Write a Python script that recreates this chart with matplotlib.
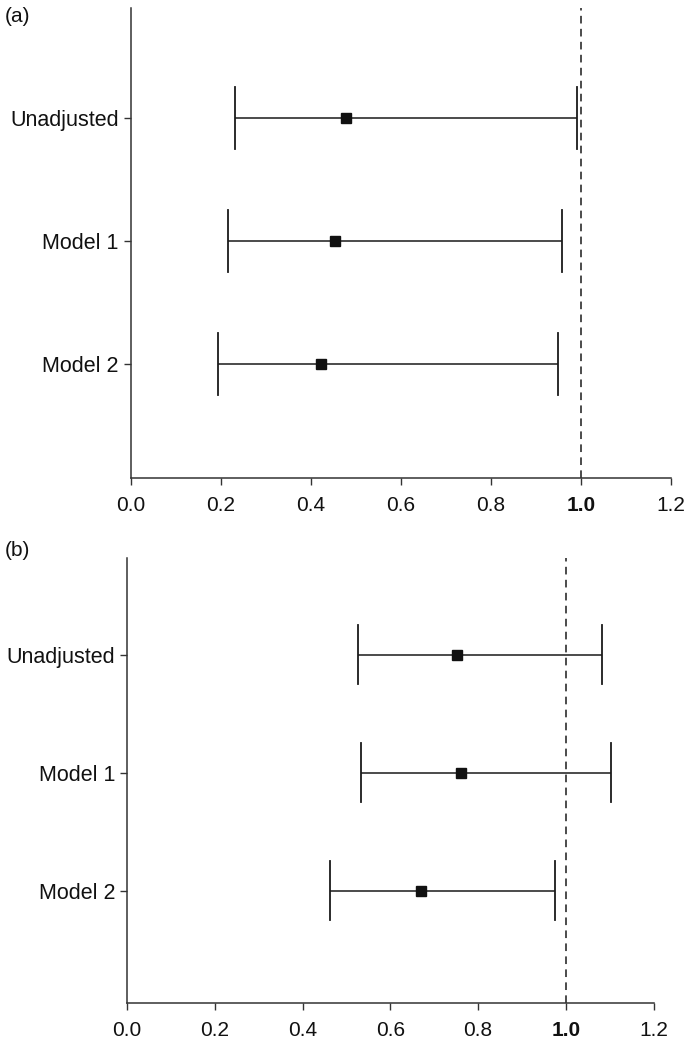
import matplotlib
matplotlib.use("Agg")
import matplotlib.pyplot as plt

categories = ["Unadjusted", "Model 1", "Model 2"]

# Panel (a)
a_est = [0.478, 0.455, 0.424]
a_low = [0.233, 0.217, 0.194]
a_high = [0.992, 0.959, 0.949]

# Panel (b)
b_est = [0.752, 0.760, 0.670]
b_low = [0.526, 0.532, 0.462]
b_high = [1.083, 1.103, 0.976]

xticks = [0.0, 0.2, 0.4, 0.6, 0.8, 1.0, 1.2]
xticklabels = ["0.0", "0.2", "0.4", "0.6", "0.8", "1.0", "1.2"]
ref_value = 1.0

plt.rcParams['font.family'] = ['Liberation Sans', 'DejaVu Sans']

fig = plt.figure(figsize=(6.92, 10.5), dpi=100)
ax_a = fig.add_axes([0.1886, 0.5448, 0.9697 - 0.1886, 0.9924 - 0.5448])
ax_b = fig.add_axes([0.1838, 0.0448, 0.9444 - 0.1838, 0.4686 - 0.0448])

def draw(ax, est, low, high, ylim):
    ypos = [3, 2, 1]
    col = '#1a1a1a'
    for y, e, lo, hi in zip(ypos, est, low, high):
        ax.plot([lo, hi], [y, y], color=col, lw=1.1, solid_capstyle='butt')
        ax.plot([lo, lo], [y - 0.25, y + 0.25], color=col, lw=1.3)
        ax.plot([hi, hi], [y - 0.25, y + 0.25], color=col, lw=1.3)
        ax.plot([e], [y], marker='s', ms=6.5, color='#111111', mec='#111111', zorder=5)
    ax.axvline(ref_value, color=col, lw=1.1, ls=(0, (5, 3.5)))
    ax.set_xlim(0, 1.2)
    ax.set_ylim(*ylim)
    ax.set_xticks(xticks)
    ax.set_xticklabels(xticklabels)
    ax.set_yticks(ypos)
    ax.set_yticklabels(categories)
    for t in ax.get_xticklabels():
        if t.get_text() == "1.0":
            t.set_fontweight('bold')
    ax.tick_params(axis='both', length=5, width=1, color='#333333', labelcolor='#111111')
    ax.tick_params(axis='x', pad=8, labelsize=15)
    ax.tick_params(axis='y', pad=3.5, labelsize=15.5)
    for s in ['top', 'right']:
        ax.spines[s].set_visible(False)
    for s in ['left', 'bottom']:
        ax.spines[s].set_linewidth(1.1)
        ax.spines[s].set_color('#333333')

draw(ax_a, a_est, a_low, a_high, (0.073, 3.894))
draw(ax_b, b_est, b_low, b_high, (0.051, 3.82))

fig.text(5 / 692, 1 - 16 / 1050, "(a)", fontsize=15, va='center', ha='left', color='#111111')
fig.text(5 / 692, 1 - 551 / 1050, "(b)", fontsize=15, va='center', ha='left', color='#111111')

fig.savefig("out.png", dpi=100)
